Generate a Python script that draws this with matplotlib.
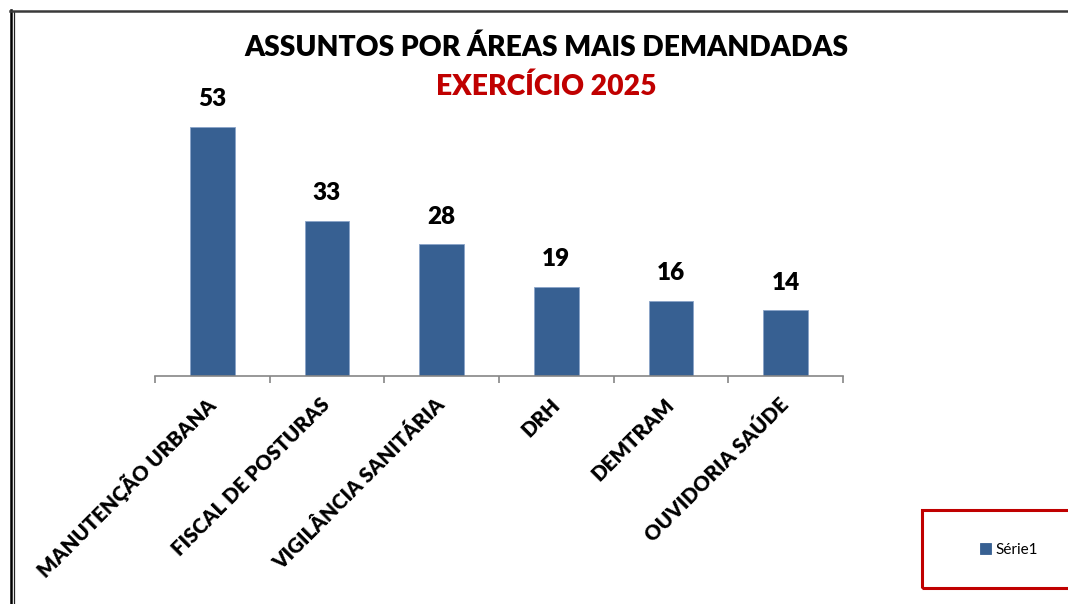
import matplotlib
matplotlib.use("Agg")
import matplotlib.pyplot as plt
from matplotlib.patches import Rectangle
from matplotlib.lines import Line2D

categories = ["MANUTENÇÃO URBANA", "FISCAL DE POSTURAS", "VIGILÂNCIA SANITÁRIA",
              "DRH", "DEMTRAM", "OUVIDORIA SAÚDE"]
values = [53, 33, 28, 19, 16, 14]
series_name = "Série1"
title_line1 = "ASSUNTOS POR ÁREAS MAIS DEMANDADAS"
title_line2 = "EXERCÍCIO 2025"

plt.rcParams['font.family'] = ['Lato', 'DejaVu Sans']

W, H = 1068, 604
fig = plt.figure(figsize=(W / 100, H / 100), dpi=100)
fig.patch.set_facecolor('white')

def fx(px):
    return px / W

def fy(py):
    return 1 - py / H

ax = fig.add_axes([fx(155), fy(376), fx(843) - fx(155), fy(94) - fy(376)])
x = list(range(len(categories)))
bars = ax.bar(x, values, width=0.39, color='#376092', edgecolor='#8aa4c8', linewidth=0.6,
              label=series_name)
ax.set_xlim(-0.5, len(categories) - 0.5)
ax.set_ylim(0, 60)

for rect, v in zip(bars, values):
    ax.annotate(str(v), (rect.get_x() + rect.get_width() / 2, rect.get_height()),
                xytext=(0, 12), textcoords='offset points', ha='center', va='bottom',
                fontsize=17.5, fontweight='heavy', color='black')

for s in ['top', 'right', 'left']:
    ax.spines[s].set_visible(False)
ax.spines['bottom'].set_color('#868686')
ax.spines['bottom'].set_linewidth(1.2)
ax.set_yticks([])
ax.set_xticks(x)
ax.set_xticklabels(categories, rotation=45, ha='right', va='center',
                   rotation_mode='anchor', fontsize=14.8, fontweight='heavy')
ax.tick_params(axis='x', which='major', length=0, pad=18)
ax.set_xticks([i - 0.5 for i in range(len(categories) + 1)], minor=True)
ax.tick_params(axis='x', which='minor', length=5, width=1.2, color='#868686', direction='out')

fig.text(fx(546), fy(48), title_line1, ha='center', va='center', fontsize=20.3,
         fontweight='heavy', color='black')
fig.text(fx(546), fy(87), title_line2, ha='center', va='center', fontsize=20.3,
         fontweight='heavy', color='#C00000')

# chart frame (partially visible)
fig.add_artist(Line2D([fx(11), fx(11)], [fy(10), fy(610)], color='black', lw=1.8))
fig.add_artist(Line2D([fx(14), fx(14)], [fy(12), fy(610)], color='#222222', lw=0.9))
fig.add_artist(Line2D([fx(10), fx(1070)], [fy(11), fy(11)], color='#3a3a3a', lw=1.8))

# legend box
fig.add_artist(Rectangle((fx(922), fy(588)), fx(160), fy(510) - fy(588),
                         transform=fig.transFigure, fill=False, edgecolor='#C00000', lw=2.2))
leg = fig.legend(handles=[bars], labels=[series_name], loc='center left',
                 bbox_to_anchor=(fx(966), fy(550)), frameon=False, fontsize=11,
                 handlelength=0.75, handleheight=0.75, handletextpad=0.3)
for h in leg.legend_handles:
    h.set_edgecolor('#376092')

fig.savefig('out.png', dpi=100, facecolor='white')
